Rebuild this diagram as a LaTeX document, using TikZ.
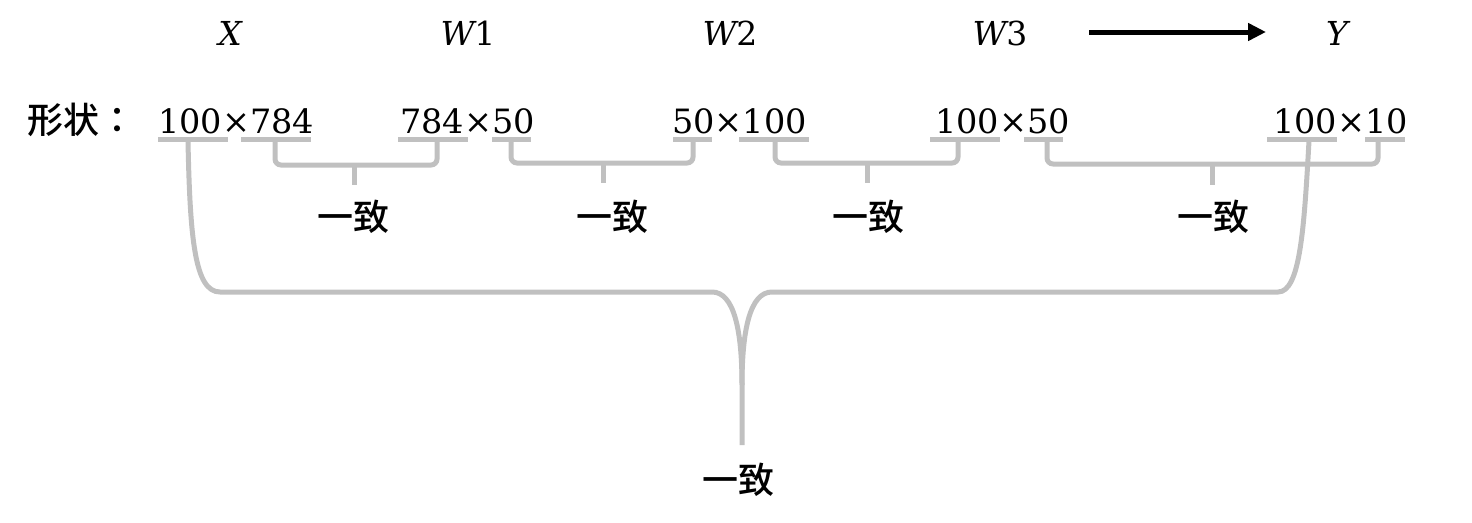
\documentclass[tikz,border=0pt]{standalone}
\usepackage{fontspec}
\setmainfont{DejaVu Serif}
\newfontfamily\cjk{Noto Sans CJK SC Medium}
\newfontfamily\cjkjp{Noto Sans CJK JP Medium}
\usetikzlibrary{arrows.meta}
\definecolor{lgray}{RGB}{192,192,192}
\tikzset{
  num/.style={inner sep=0pt, anchor=base west, font=\fontsize{33.5}{36}\selectfont},
  var/.style={inner sep=0pt, font=\fontsize{33}{36}\selectfont},
  cjklab/.style={inner sep=0pt, font=\fontsize{36}{40}\selectfont\cjk},
  bar/.style={draw=lgray, line width=5pt},
  brk/.style={draw=lgray, line width=5pt, rounded corners=6pt},
  big/.style={draw=lgray, line width=5pt},
  flow/.style={draw=black, line width=5pt, -{Triangle[length=18pt,width=17pt]}}
}
\begin{document}
\begin{tikzpicture}[x=1pt,y=-1pt]
\useasboundingbox (0,0) rectangle (1472,522);
% top labels
\node[var] (X)  at (230,33) {\itshape X};
\node[var] (W1) at (468,33) {{\itshape W}1};
\node[var] (W2) at (730,33) {{\itshape W}2};
\node[var] (W3) at (1000,33) {{\itshape W}3};
\node[var] (Y)  at (1337,33) {\itshape Y};
\coordinate (a1) at (1089,32);
\coordinate (a2) at (1266,32);
\draw[flow] (a1) -- (a2);
% shapes row
\node[cjklab, anchor=base west, font=\fontsize{36}{40}\selectfont\cjkjp] (lab) at (27,133) {形状：};
\node[num] (s1) at (158,133) {100×784};
\node[num] (s2) at (400,133) {784×50};
\node[num] (s3) at (672,133) {50×100};
\node[num] (s4) at (935,133) {100×50};
\node[num] (s5) at (1273,133) {100×10};
% underline bars
\draw[bar] (158,139) -- (228,139);
\draw[bar] (241,139) -- (311,139);
\draw[bar] (398,139) -- (468,139);
\draw[bar] (492,139) -- (531,139);
\draw[bar] (673,139) -- (712,139);
\draw[bar] (739,139) -- (809,139);
\draw[bar] (930,139) -- (1000,139);
\draw[bar] (1024,139) -- (1063,139);
\draw[bar] (1267,139) -- (1337,139);
\draw[bar] (1365,139) -- (1405,139);
% small labels
\node[cjklab] (c1) at (353,217) {一致};
\node[cjklab] (c2) at (612,217) {一致};
\node[cjklab] (c3) at (868,217) {一致};
\node[cjklab] (c4) at (1213,217) {一致};
\node[cjklab] (c5) at (738,480) {一致};
% small brackets
\draw[brk] (275,141) -- (275,165) -- (437,165) -- (437,141);
\draw[bar] (354,164) -- (354,185);
\draw[brk] (511,141) -- (511,163) -- (693,163) -- (693,141);
\draw[bar] (603,162) -- (603,183);
\draw[brk] (775,141) -- (775,163) -- (958,163) -- (958,141);
\draw[bar] (867,162) -- (867,183);
\draw[brk] (1047,141) -- (1047,164) -- (1378,164) -- (1378,141);
\draw[bar] (1212,163) -- (1212,185);
% big bracket
\draw[big] (188,141) .. controls (190,240) and (195,292) .. (220,292) -- (712,292)
  .. controls (734,292) and (742,330) .. (742,385) -- (742,445);
\draw[big] (742,385) .. controls (742,330) and (750,292) .. (772,292) -- (1278,292)
  .. controls (1300,292) and (1304,230) .. (1309,141);
\end{tikzpicture}
\end{document}
